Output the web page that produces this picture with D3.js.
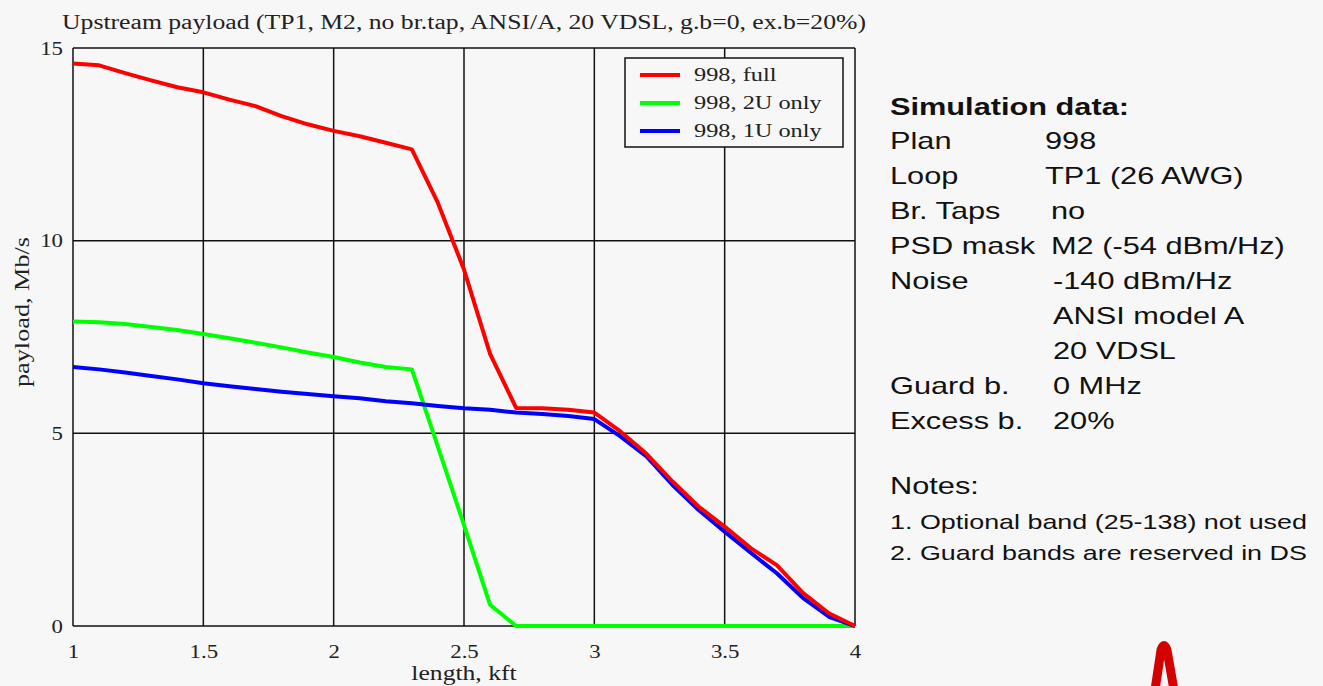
<!DOCTYPE html>
<html>
<head>
<meta charset="utf-8">
<script src="https://cdn.jsdelivr.net/npm/d3@7"></script>
<style>
    html, body { margin: 0; padding: 0; background: #f7f7f7; }
    svg { display: block; }
</style>
</head>
<body>
<div id="chart"></div>
<script>
/* --------------------------------------------------------------
DATOS
-------------------------------------------------------------- */

const LENGTHS = [1.0, 1.1, 1.2, 1.3, 1.4, 1.5, 1.6, 1.7, 1.8, 1.9, 2.0,
                 2.1, 2.2, 2.3, 2.4, 2.5, 2.6, 2.7, 2.8, 2.9, 3.0,
                 3.1, 3.2, 3.3, 3.4, 3.5, 3.6, 3.7, 3.8, 3.9, 4.0];

const FULL = [14.6, 14.55, 14.35, 14.16, 13.98, 13.85, 13.66, 13.49, 13.23, 13.02, 12.85,
              12.71, 12.54, 12.37, 10.98, 9.25, 7.06, 5.66, 5.65, 5.61, 5.54,
              5.05, 4.47, 3.75, 3.1, 2.58, 2.02, 1.58, 0.86, 0.33, 0.0];

const ONLY_2U = [7.9, 7.88, 7.84, 7.76, 7.68, 7.58, 7.47, 7.35, 7.23, 7.1, 6.98,
                 6.84, 6.72, 6.66, 4.65, 2.62, 0.55, 0.0, 0.0, 0.0, 0.0,
                 0.0, 0.0, 0.0, 0.0, 0.0, 0.0, 0.0, 0.0, 0.0, 0.0];

const ONLY_1U = [6.72, 6.66, 6.58, 6.49, 6.4, 6.3, 6.22, 6.15, 6.08, 6.02, 5.96,
                 5.91, 5.83, 5.78, 5.71, 5.65, 5.61, 5.54, 5.5, 5.45, 5.37,
                 4.92, 4.4, 3.66, 3.01, 2.45, 1.9, 1.37, 0.73, 0.24, 0.0];

const SERIES_NAMES = ["998, full", "998, 2U only", "998, 1U only"];
const SERIES_COLORS = ["#ff0000", "#00ff00", "#0000ff"];

const X_TICKS = [1, 1.5, 2, 2.5, 3, 3.5, 4];
const Y_TICKS = [0, 5, 10, 15];

const SIM_DATA = [
    ["Plan", "998"],
    ["Loop", "TP1 (26 AWG)"],
    ["Br. Taps", "no"],
    ["PSD mask", "M2 (-54 dBm/Hz)"],
    ["Noise", "-140 dBm/Hz"],
    ["", "ANSI model A"],
    ["", "20 VDSL"],
    ["Guard b.", "0 MHz"],
    ["Excess b.", "20%"]
];

const NOTES = [
    "1. Optional band (25-138) not used",
    "2. Guard bands are reserved in DS"
];

/* --------------------------------------------------------------
LIENZO
-------------------------------------------------------------- */

const W = 1323, H = 686;
const SERIF = "'Liberation Serif', 'Times New Roman', serif";
const SANS = "'Liberation Sans', Arial, sans-serif";
const STRETCH = 1.28;   // la figura original está estirada en horizontal

const svg = d3.select("#chart").append("svg")
    .attr("width", W)
    .attr("height", H);

svg.append("rect")
    .attr("width", W).attr("height", H)
    .attr("fill", "#f7f7f7");

const plot = { left: 73, right: 855, top: 48, bottom: 626 };

const x = d3.scaleLinear().domain([1, 4]).range([plot.left, plot.right]);
const y = d3.scaleLinear().domain([0, 15]).range([plot.bottom, plot.top]);

function stretch(sel, factor = STRETCH) {
    sel.each(function () {
        const len = this.getComputedTextLength();
        this.setAttribute("textLength", len * factor);
        this.setAttribute("lengthAdjust", "spacingAndGlyphs");
    });
}

/* --------------------------------------------------------------
REJILLA Y EJES
-------------------------------------------------------------- */

function drawGrid() {
    const g = svg.append("g");

    g.selectAll(".vgrid").data(X_TICKS).enter()
        .append("line")
        .attr("x1", d => x(d)).attr("x2", d => x(d))
        .attr("y1", plot.top).attr("y2", plot.bottom)
        .attr("stroke", "#111").attr("stroke-width", 1.5);

    g.selectAll(".hgrid").data(Y_TICKS).enter()
        .append("line")
        .attr("x1", plot.left).attr("x2", plot.right)
        .attr("y1", d => y(d)).attr("y2", d => y(d))
        .attr("stroke", "#111").attr("stroke-width", 1.5);
}

function drawAxes() {
    const xAxis = svg.append("g")
        .attr("transform", `translate(0,${plot.bottom})`)
        .call(d3.axisBottom(x).tickValues(X_TICKS).tickSize(0).tickPadding(19)
            .tickFormat(d3.format("")));

    const yAxis = svg.append("g")
        .attr("transform", `translate(${plot.left},0)`)
        .call(d3.axisLeft(y).tickValues(Y_TICKS).tickSize(0).tickPadding(10));

    [xAxis, yAxis].forEach(a => {
        a.select(".domain").remove();
        a.selectAll("text")
            .attr("font-family", SERIF)
            .attr("font-size", 19)
            .attr("fill", "#222")
            .call(stretch, 1.2);
    });

    svg.append("text")
        .attr("x", (plot.left + plot.right) / 2)
        .attr("y", 29)
        .attr("text-anchor", "middle")
        .attr("font-family", SERIF)
        .attr("font-size", 20)
        .attr("fill", "#222")
        .attr("textLength", 804)
        .attr("lengthAdjust", "spacingAndGlyphs")
        .text("Upstream payload (TP1, M2, no br.tap, ANSI/A, 20 VDSL, g.b=0, ex.b=20%)");

    svg.append("text")
        .attr("x", (plot.left + plot.right) / 2)
        .attr("y", 680)
        .attr("text-anchor", "middle")
        .attr("font-family", SERIF)
        .attr("font-size", 20)
        .attr("fill", "#222")
        .text("length, kft")
        .call(stretch);

    svg.append("text")
        .attr("transform", "translate(29,312) rotate(-90)")
        .attr("text-anchor", "middle")
        .attr("font-family", SERIF)
        .attr("font-size", 20)
        .attr("fill", "#222")
        .attr("textLength", 150)
        .attr("lengthAdjust", "spacingAndGlyphs")
        .text("payload, Mb/s");
}

/* --------------------------------------------------------------
SERIES
-------------------------------------------------------------- */

function drawSeries() {
    const series = [FULL, ONLY_2U, ONLY_1U];
    const line = d3.line()
        .x((d, i) => x(LENGTHS[i]))
        .y(d => y(d));

    // el verde primero, el rojo encima del azul como en la figura
    [1, 2, 0].forEach(k => {
        svg.append("path")
            .datum(series[k])
            .attr("d", line)
            .attr("fill", "none")
            .attr("stroke", SERIES_COLORS[k])
            .attr("stroke-width", 4)
            .attr("stroke-linejoin", "round");
    });
}

/* --------------------------------------------------------------
LEYENDA
-------------------------------------------------------------- */

function drawLegend() {
    const g = svg.append("g").attr("transform", "translate(625,58)");

    g.append("rect")
        .attr("width", 218).attr("height", 89)
        .attr("fill", "#f7f7f7")
        .attr("stroke", "#111").attr("stroke-width", 1.5);

    SERIES_NAMES.forEach((name, i) => {
        const yy = 17 + i * 28;
        g.append("line")
            .attr("x1", 15).attr("x2", 55)
            .attr("y1", yy).attr("y2", yy)
            .attr("stroke", SERIES_COLORS[i]).attr("stroke-width", 4);
        g.append("text")
            .attr("x", 69).attr("y", yy + 6)
            .attr("font-family", SERIF)
            .attr("font-size", 19)
            .attr("fill", "#222")
            .text(name)
            .call(stretch);
    });
}

/* --------------------------------------------------------------
PANEL DE TEXTO
-------------------------------------------------------------- */

function drawSidePanel() {
    const g = svg.append("g");

    g.append("text")
        .attr("x", 890).attr("y", 115)
        .attr("font-family", SANS)
        .attr("font-size", 24)
        .attr("font-weight", "bold")
        .attr("fill", "#111")
        .text("Simulation data:")
        .call(stretch);

    SIM_DATA.forEach((row, i) => {
        const yy = 149 + i * 35;
        if (row[0]) {
            g.append("text")
                .attr("x", 890).attr("y", yy)
                .attr("font-family", SANS).attr("font-size", 24)
                .attr("fill", "#111")
                .text(row[0])
                .call(stretch);
        }
        g.append("text")
            .attr("x", i < 2 ? 1045 : (i < 4 ? 1051 : 1053)).attr("y", yy)
            .attr("font-family", SANS).attr("font-size", 24)
            .attr("fill", "#111")
            .text(row[1])
            .call(stretch);
    });

    g.append("text")
        .attr("x", 890).attr("y", 494)
        .attr("font-family", SANS).attr("font-size", 24)
        .attr("fill", "#111")
        .text("Notes:")
        .call(stretch);

    NOTES.forEach((n, i) => {
        g.append("text")
            .attr("x", 890).attr("y", 529 + i * 31)
            .attr("font-family", SANS).attr("font-size", 21)
            .attr("fill", "#111")
            .text(n)
            .call(stretch);
    });

    // trozo del logotipo rojo que asoma abajo
    g.append("path")
        .attr("d", "M1155,690 L1161,650 Q1164,641 1167,650 L1174,690")
        .attr("fill", "none")
        .attr("stroke", "#d40000")
        .attr("stroke-width", 9)
        .attr("stroke-linecap", "round");
}

drawGrid();
drawSeries();
drawLegend();
drawAxes();
drawSidePanel();
</script>
</body>
</html>
